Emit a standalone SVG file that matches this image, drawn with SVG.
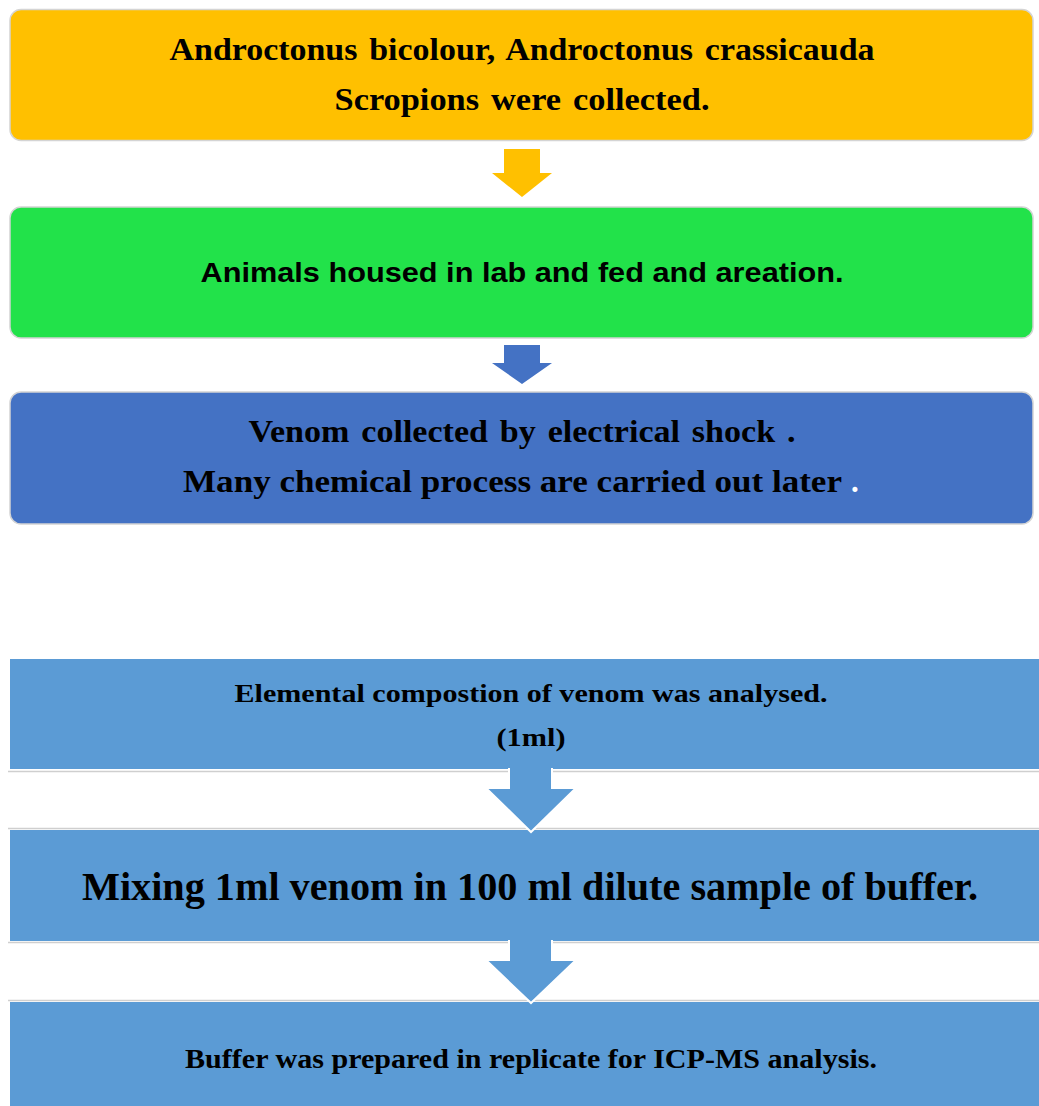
<svg xmlns="http://www.w3.org/2000/svg" width="1039" height="1106" viewBox="0 0 1039 1106">
<style>
.serif{font-family:"Liberation Serif","Times New Roman",serif;font-weight:bold;fill:#000;}
.ws{word-spacing:3px;}
.sans{font-family:"Liberation Sans",Arial,sans-serif;font-weight:bold;fill:#000;}
.rbox{stroke:#d4d4d4;stroke-width:1.5;}
.sq{fill:#5B9BD5;}
.garrow{fill:#5B9BD5;stroke:#ffffff;stroke-width:2;}
.gline{stroke:#cfcfcf;stroke-width:1.5;}
</style>
<rect width="1039" height="1106" fill="#ffffff"/>
<g id="connectors">
  <polygon points="504,149 540,149 540,173 552,173 522,197 492,173 504,173" fill="#FFC000"/>
  <polygon points="504,345 540,345 540,363 552,363 522,384 492,363 504,363" fill="#4472C4"/>
</g>
<g id="node1">
  <rect class="rbox" x="10" y="9.5" width="1023" height="131" rx="11" fill="#FFC000"/>
  <text class="serif ws" x="522" y="60" font-size="31" text-anchor="middle" textLength="705" lengthAdjust="spacingAndGlyphs">Androctonus bicolour, Androctonus crassicauda</text>
  <text class="serif ws" x="522" y="110" font-size="31" text-anchor="middle" textLength="375" lengthAdjust="spacingAndGlyphs">Scropions were collected.</text>
</g>
<g id="node2">
  <rect class="rbox" x="10" y="207" width="1023" height="131" rx="11" fill="#22E24A"/>
  <text class="sans" x="522" y="282" font-size="28" text-anchor="middle" textLength="643" lengthAdjust="spacingAndGlyphs">Animals housed in lab and fed and areation.</text>
</g>
<g id="node3">
  <rect class="rbox" x="10" y="392" width="1023" height="132" rx="11" fill="#4472C4"/>
  <text class="serif ws" x="522" y="442" font-size="31" text-anchor="middle" textLength="547" lengthAdjust="spacingAndGlyphs">Venom collected by electrical shock .</text>
  <text class="serif" x="183" y="492" font-size="31" textLength="659" lengthAdjust="spacingAndGlyphs">Many chemical process are carried out later</text>
  <text class="serif" x="851" y="492" font-size="31" style="fill:#ffffff">.</text>
</g>
<g id="lines">
  <line class="gline" x1="8" y1="771.5" x2="1039" y2="771.5"/>
  <line class="gline" x1="8" y1="828.5" x2="1039" y2="828.5"/>
  <line class="gline" x1="8" y1="942.5" x2="1039" y2="942.5"/>
  <line class="gline" x1="8" y1="1000.5" x2="1039" y2="1000.5"/>
</g>
<g id="node4">
  <rect class="sq" x="10" y="659" width="1029" height="110"/>
  <text class="serif" x="531" y="702" font-size="26" text-anchor="middle" textLength="593" lengthAdjust="spacingAndGlyphs">Elemental compostion of venom was analysed.</text>
  <text class="serif" x="531" y="746" font-size="26" text-anchor="middle" textLength="69" lengthAdjust="spacingAndGlyphs">(1ml)</text>
</g>
<g id="node5">
  <rect class="sq" x="10" y="830" width="1029" height="111"/>
  <text class="serif" x="530" y="900" font-size="40" text-anchor="middle" textLength="896" lengthAdjust="spacingAndGlyphs">Mixing 1ml venom in 100 ml dilute sample of buffer.</text>
</g>
<g id="node6">
  <rect class="sq" x="10" y="1002" width="1029" height="104"/>
  <text class="serif" x="531" y="1068" font-size="27" text-anchor="middle" textLength="692" lengthAdjust="spacingAndGlyphs">Buffer was prepared in replicate for ICP-MS analysis.</text>
</g>
<g id="connectors2">
  <path class="garrow" d="M509,768 L509,788 L486,788 L531,832 L576,788 L552,788 L552,768"/>
  <path class="garrow" d="M509,940 L509,960 L486,960 L531,1003 L576,960 L552,960 L552,940"/>
</g>
</svg>
